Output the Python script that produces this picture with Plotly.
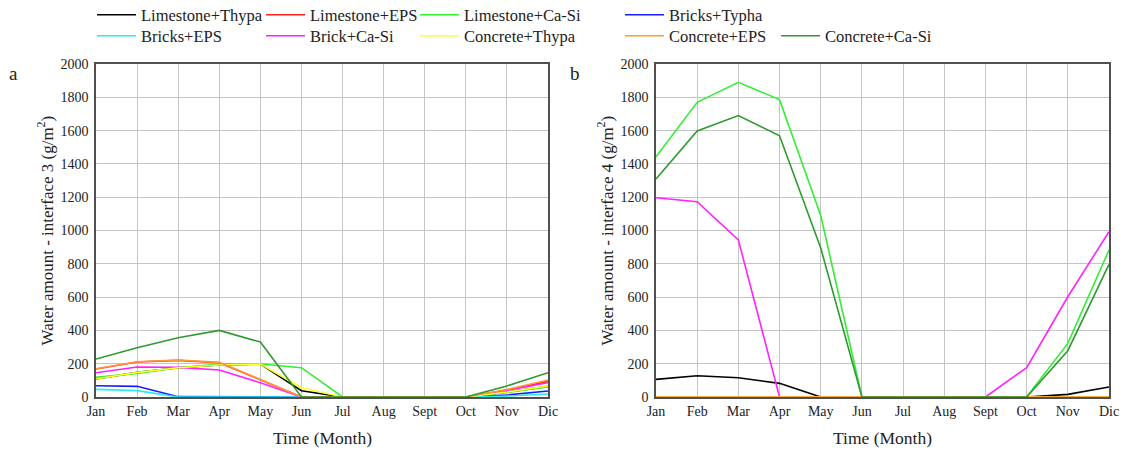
import plotly.graph_objects as go

months = ["Jan", "Feb", "Mar", "Apr", "May", "Jun", "Jul", "Aug", "Sept", "Oct", "Nov", "Dic"]

series_names = ["Limestone+Thypa", "Limestone+EPS", "Limestone+Ca-Si", "Bricks+Typha",
                "Bricks+EPS", "Brick+Ca-Si", "Concrete+Thypa", "Concrete+EPS", "Concrete+Ca-Si"]
series_colors = ["#000000", "#ff2222", "#33ee33", "#1a1aff", "#22eeee",
                 "#ff22ff", "#ffff22", "#ff9933", "#2f9a2f"]

# interface 3 (panel a)
a_limestone_thypa = [108, 148, 176, 192, 198, 38, 0, 0, 0, 0, 30, 64]
a_limestone_eps = [168, 210, 220, 206, 104, 0, 0, 0, 0, 0, 42, 94]
a_limestone_casi = [118, 142, 176, 198, 198, 176, 0, 0, 0, 0, 28, 60]
a_bricks_typha = [68, 64, 2, 0, 0, 0, 0, 0, 0, 0, 12, 36]
a_bricks_eps = [46, 38, 0, 0, 0, 0, 0, 0, 0, 0, 6, 18]
a_brick_casi = [146, 180, 178, 162, 86, 0, 0, 0, 0, 0, 40, 86]
a_concrete_thypa = [108, 148, 176, 192, 198, 56, 0, 0, 0, 0, 30, 66]
a_concrete_eps = [170, 212, 222, 208, 105, 0, 0, 0, 0, 0, 45, 102]
a_concrete_casi = [228, 296, 356, 400, 330, 0, 0, 0, 0, 0, 66, 146]

# interface 4 (panel b)
b_limestone_thypa = [106, 128, 116, 82, 0, 0, 0, 0, 0, 0, 16, 60]
b_limestone_eps = [0, 0, 0, 0, 0, 0, 0, 0, 0, 0, 0, 0]
b_limestone_casi = [1443, 1770, 1890, 1786, 1090, 0, 0, 0, 0, 0, 322, 883]
b_bricks_typha = [0, 0, 0, 0, 0, 0, 0, 0, 0, 0, 0, 0]
b_bricks_eps = [0, 0, 0, 0, 0, 0, 0, 0, 0, 0, 0, 0]
b_brick_casi = [1197, 1173, 943, 0, 0, 0, 0, 0, 0, 176, 602, 993]
b_concrete_thypa = [0, 0, 0, 0, 0, 0, 0, 0, 0, 0, 0, 0]
b_concrete_eps = [0, 0, 0, 0, 0, 0, 0, 0, 0, 0, 0, 0]
b_concrete_casi = [1309, 1598, 1690, 1569, 895, 0, 0, 0, 0, 0, 278, 797]

panel_a = [a_limestone_thypa, a_limestone_eps, a_limestone_casi, a_bricks_typha, a_bricks_eps,
           a_brick_casi, a_concrete_thypa, a_concrete_eps, a_concrete_casi]
panel_b = [b_limestone_thypa, b_limestone_eps, b_limestone_casi, b_bricks_typha, b_bricks_eps,
           b_brick_casi, b_concrete_thypa, b_concrete_eps, b_concrete_casi]

y_titles = ["Water amount - interface 3 (g/m<sup>2</sup>)",
            "Water amount - interface 4 (g/m<sup>2</sup>)"]
x_title = "Time (Month)"
panel_labels = ["a", "b"]

W, H = 1127, 451
FONT = "Liberation Serif"
TXT = "#222222"

# legend entry placement (pixels): line start x, text centre y
leg_x = [98, 267, 421, 626, 98, 267, 421, 626, 782]
leg_y = [15, 15, 15, 15, 36, 36, 36, 36, 36]

def px_x(p):
    return p / W

def px_y(p):
    return 1 - p / H

fig = go.Figure()
for i, (name, col, ya, yb) in enumerate(zip(series_names, series_colors, panel_a, panel_b)):
    lg = "legend" if i == 0 else f"legend{i+1}"
    fig.add_trace(go.Scatter(x=months, y=ya, mode="lines", name=name,
                             line=dict(color=col, width=1.6), legend=lg,
                             xaxis="x", yaxis="y"))
    fig.add_trace(go.Scatter(x=months, y=yb, mode="lines", name=name,
                             line=dict(color=col, width=1.6), showlegend=False,
                             xaxis="x2", yaxis="y2"))

left_a, right_a = 96, 548
left_b, right_b = 656, 1109
top, bottom = 64, 397

xcommon = dict(type="category", categoryorder="array", categoryarray=months,
               range=[0, 11], showgrid=True, gridcolor="#c4c4c4", gridwidth=1,
               showline=True, linecolor="#505050", linewidth=1.6, mirror=True,
               ticks="", tickfont=dict(family=FONT, size=14, color=TXT),
               automargin=False, zeroline=False)
ycommon = dict(range=[0, 2000], dtick=200, showgrid=True, gridcolor="#c4c4c4", gridwidth=1,
               showline=True, linecolor="#505050", linewidth=1.6, mirror=True,
               ticks="", tickfont=dict(family=FONT, size=14, color=TXT),
               ticklabelstandoff=3, automargin=False, zeroline=False)

legend_common = dict(orientation="v", xref="container", yref="container",
                     xanchor="left", yanchor="middle", bgcolor="rgba(0,0,0,0)",
                     font=dict(family=FONT, size=16.5, color=TXT),
                     tracegroupgap=0, itemwidth=39, borderwidth=0)

layout_legends = {}
for i, (lx, ly) in enumerate(zip(leg_x, leg_y)):
    key = "legend" if i == 0 else f"legend{i+1}"
    layout_legends[key] = dict(legend_common, x=px_x(lx - 6), y=px_y(ly))

annotations = []
for lbl, ytxt, xc, ytc, xl in [(panel_labels[0], y_titles[0], 45, (left_a + right_a) / 2, 14),
                               (panel_labels[1], y_titles[1], 605, (left_b + right_b) / 2, 575)]:
    annotations.append(dict(text=lbl, x=px_x(xl), y=px_y(73), xref="paper", yref="paper",
                            xanchor="center", yanchor="middle", showarrow=False,
                            font=dict(family=FONT, size=19, color=TXT)))
    annotations.append(dict(text=ytxt, x=px_x(xc), y=px_y((top + bottom) / 2),
                            xref="paper", yref="paper", xanchor="center", yanchor="middle",
                            textangle=-90, showarrow=False,
                            font=dict(family=FONT, size=17, color=TXT)))
    annotations.append(dict(text=x_title, x=px_x(ytc), y=px_y(438),
                            xref="paper", yref="paper", xanchor="center", yanchor="middle",
                            showarrow=False, font=dict(family=FONT, size=17.5, color=TXT)))

fig.update_layout(
    width=W, height=H,
    margin=dict(l=0, r=0, t=0, b=0, autoexpand=False),
    paper_bgcolor="white", plot_bgcolor="white",
    font=dict(family=FONT, color=TXT),
    xaxis=dict(xcommon, domain=[px_x(left_a), px_x(right_a)], anchor="y"),
    yaxis=dict(ycommon, domain=[px_y(bottom), px_y(top)], anchor="x"),
    xaxis2=dict(xcommon, domain=[px_x(left_b), px_x(right_b)], anchor="y2"),
    yaxis2=dict(ycommon, domain=[px_y(bottom), px_y(top)], anchor="x2"),
    annotations=annotations,
    **layout_legends,
)

fig.write_html("out.html")
